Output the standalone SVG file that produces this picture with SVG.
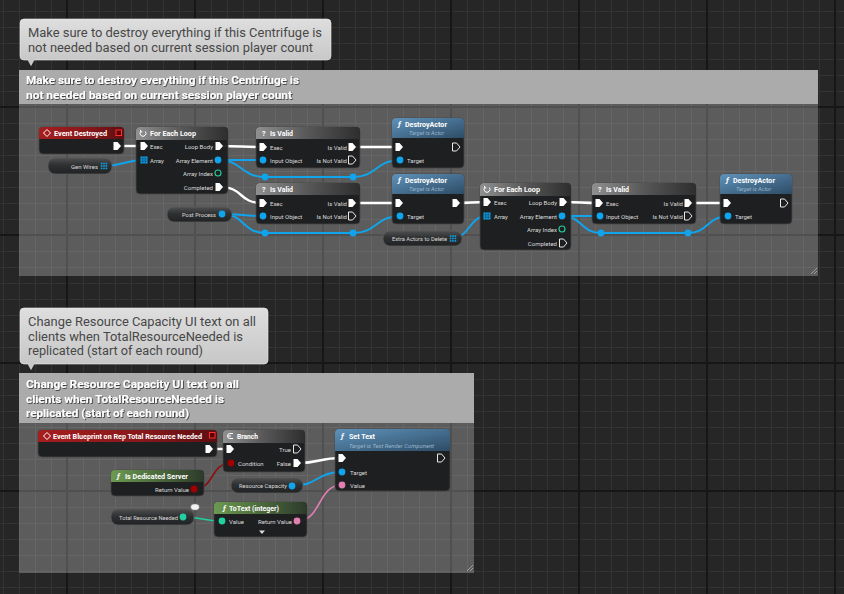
<svg xmlns="http://www.w3.org/2000/svg" xmlns:xlink="http://www.w3.org/1999/xlink" width="844" height="594" viewBox="0 0 844 594">
<defs>
<style>
text{font-family:Roboto,"Liberation Sans",sans-serif}
.nb{fill:#1c1d1f;fill-opacity:.96;stroke:#464646;stroke-width:.8}
.tt{font-size:7px;font-weight:bold;fill:#fff}
.fn{font-size:8px;font-weight:bold;font-style:italic;fill:#fff}
.lb{font-size:6px;fill:#dcdcdc}
.lr{font-size:6px;fill:#dcdcdc;text-anchor:end}
.sb{font-size:5.5px;font-style:italic;fill:#9bb6cc}
.pl{fill:url(#gPill);stroke:#5c5c5c;stroke-width:.8}
.pf{fill:#fff}
.po{fill:none;stroke:#fff;stroke-width:.9}
.pb{fill:#10a4ec}
.wx{fill:none;stroke:#fff;stroke-width:2.4}
.wo{fill:none;stroke:#10a4ec;stroke-width:2}
.wb{fill:none;stroke:#8c1010;stroke-width:1.6}
.wi{fill:none;stroke:#20d0a0;stroke-width:1.6}
.wt{fill:none;stroke:#de7fae;stroke-width:1.6}
.ch{font-size:11px;font-weight:bold;fill:#fff;filter:url(#ts)}
.bt{font-size:12px;fill:#474747}
</style>
<pattern id="gridMinor" patternUnits="userSpaceOnUse" x="3" y="11" width="16" height="16"><path d="M0.5,0V16M0,0.5H16" stroke="#333333" stroke-width="1"/></pattern>
<pattern id="gridMajor" patternUnits="userSpaceOnUse" x="66" y="106" width="128" height="128"><path d="M1,0V128M0,1H128" stroke="#161616" stroke-width="2"/></pattern>
<linearGradient id="gRed" x1="0" y1="0" x2="1" y2="0"><stop offset="0" stop-color="#a61e1e"/><stop offset=".6" stop-color="#86171a"/><stop offset="1" stop-color="#5c0f12"/></linearGradient>
<linearGradient id="gGray" x1="0" y1="0" x2="1" y2="0"><stop offset="0" stop-color="#909090"/><stop offset=".5" stop-color="#575757"/><stop offset="1" stop-color="#2e2e2e"/></linearGradient>
<linearGradient id="gBlue" x1="0" y1="0" x2="1" y2="1"><stop offset="0" stop-color="#5f92ba"/><stop offset="1" stop-color="#2d4c66"/></linearGradient>
<linearGradient id="gGreen" x1="0" y1="0" x2="1" y2="0"><stop offset="0" stop-color="#6c9a50"/><stop offset="1" stop-color="#2c3a2a"/></linearGradient>
<linearGradient id="gPill" x1="0" y1="0" x2="0" y2="1"><stop offset="0" stop-color="#4d4f51"/><stop offset=".45" stop-color="#2e3031"/><stop offset="1" stop-color="#212223"/></linearGradient>
<linearGradient id="gBubble" x1="0" y1="0" x2="0" y2="1"><stop offset="0" stop-color="#dedede"/><stop offset="1" stop-color="#c5c5c5"/></linearGradient>
<filter id="ts" x="-5%" y="-30%" width="110%" height="160%"><feDropShadow dx="0.8" dy="0.8" stdDeviation="0.3" flood-color="#000" flood-opacity="0.75"/></filter>
<path id="pe" d="M-3.5,-4H0.5L4,0L0.5,4H-3.5Z"/>
<g id="arr" fill="#10a4ec"><rect x="-3.2" y="-3.2" width="1.6" height="1.6"/><rect x="-0.8" y="-3.2" width="1.6" height="1.6"/><rect x="1.6" y="-3.2" width="1.6" height="1.6"/><rect x="-3.2" y="-0.8" width="1.6" height="1.6"/><rect x="-0.8" y="-0.8" width="1.6" height="1.6"/><rect x="1.6" y="-0.8" width="1.6" height="1.6"/><rect x="-3.2" y="1.6" width="1.6" height="1.6"/><rect x="-0.8" y="1.6" width="1.6" height="1.6"/><rect x="1.6" y="1.6" width="1.6" height="1.6"/></g>
<g id="arrIn"><rect x="-3.5" y="-3.5" width="7" height="7" fill="#10a4ec"/><path d="M-1.2,-3.5V3.5M1.2,-3.5V3.5M-3.5,-1.2H3.5M-3.5,1.2H3.5" stroke="#0a3c5a" stroke-width=".6"/></g>
<path id="icoEvent" d="M0,-3.5L3.5,0L0,3.5L-3.5,0Z" fill="none" stroke="#fff" stroke-width="1"/>
<g id="icoLoop" fill="none" stroke="#fff" stroke-width="1"><path d="M2.4,-2A3,3 0 1 1 -2.4,-2"/><path d="M-2.4,-3.6V-1.6H-0.6" /></g>
<g id="icoBranch" fill="none" stroke="#fff" stroke-width="1"><path d="M3,-2.5H0A2.5,2.5 0 0 0 0,2.5H3"/><path d="M-2,0H1"/></g>
</defs>

<rect width="844" height="594" fill="#262626"/>
<rect width="844" height="594" fill="url(#gridMinor)"/>
<rect width="844" height="594" fill="url(#gridMajor)"/>

<!-- Comment 1 -->
<g id="comment1">
<rect x="19" y="70" width="799" height="206" fill="#fff" fill-opacity=".25"/>
<rect x="19" y="70" width="799" height="34" fill="#ababab"/>
<text class="ch" x="26" y="84" textLength="273" lengthAdjust="spacingAndGlyphs">Make sure to destroy everything if this Centrifuge is</text>
<text class="ch" x="26" y="99" textLength="266" lengthAdjust="spacingAndGlyphs">not needed based on current session player count</text>
<path d="M817,268L811,274M817,271L814,274" stroke="#b0b0b0" stroke-width=".8"/>
</g>
<g id="bubble1">
<path d="M24,19H327Q331,19 331,23V56Q331,60 327,60H34L31,65.5L28,60H24Q20,60 20,56V23Q20,19 24,19Z" fill="url(#gBubble)" stroke="#ececec" stroke-width=".6"/>
<text class="bt" x="28" y="37" textLength="294" lengthAdjust="spacingAndGlyphs">Make sure to destroy everything if this Centrifuge is</text>
<text class="bt" x="28" y="52" textLength="285" lengthAdjust="spacingAndGlyphs">not needed based on current session player count</text>
</g>

<!-- Comment 2 -->
<g id="comment2">
<rect x="19" y="373" width="455" height="200" fill="#fff" fill-opacity=".25"/>
<rect x="19" y="373" width="455" height="50" fill="#ababab"/>
<text class="ch" x="26" y="388" textLength="213" lengthAdjust="spacingAndGlyphs">Change Resource Capacity UI text on all</text>
<text class="ch" x="26" y="403" textLength="198" lengthAdjust="spacingAndGlyphs">clients when TotalResourceNeeded is</text>
<text class="ch" x="26" y="417" textLength="163" lengthAdjust="spacingAndGlyphs">replicated (start of each round)</text>
<path d="M473,565L467,571M473,568L470,571" stroke="#b0b0b0" stroke-width=".8"/>
</g>
<g id="bubble2">
<path d="M24,308H264Q268,308 268,312V360Q268,364 264,364H34L31,369.5L28,364H24Q20,364 20,360V312Q20,308 24,308Z" fill="url(#gBubble)" stroke="#ececec" stroke-width=".6"/>
<text class="bt" x="28" y="326" textLength="228" lengthAdjust="spacingAndGlyphs">Change Resource Capacity UI text on all</text>
<text class="bt" x="28" y="341" textLength="215" lengthAdjust="spacingAndGlyphs">clients when TotalResourceNeeded is</text>
<text class="bt" x="28" y="355" textLength="175" lengthAdjust="spacingAndGlyphs">replicated (start of each round)</text>
</g>

<!-- Connectors -->
<g id="connectors">
<path class="wx" d="M117,146H144"/>
<path class="wo" d="M104,166C122,166 126,160 144,160"/>
<path class="wx" d="M219,146C240,146 242,147 263,147"/>
<path class="wo" d="M218,160H263"/>
<path class="wo" d="M218,160C242,160 241,177 265,177H353C377,177 376,160 400,160"/>
<path class="wx" d="M219,187C245,187 237,203 263,203"/>
<path class="wx" d="M352,147H399"/>
<path class="wo" d="M222,214C242,214 243,216 263,216"/>
<path class="wo" d="M222,214C244,214 243,233 265,233H353C377,233 376,216 400,216"/>
<path class="wx" d="M352,203H399"/>
<path class="wx" d="M456,203C471,203 472,202 487,202"/>
<path class="wo" d="M452,238C470,238 469,216 487,216"/>
<path class="wx" d="M563,202C581,202 581,203 599,203"/>
<path class="wo" d="M562,216H600"/>
<path class="wo" d="M562,216C582,216 581,233 601,233H688C708,233 708,216 728,216"/>
<path class="wx" d="M688,203H727"/>
<g fill="#10a4ec"><circle cx="265" cy="177" r="3.4"/><circle cx="353" cy="177" r="3.4"/><circle cx="265" cy="233" r="3.4"/><circle cx="353" cy="233" r="3.4"/><circle cx="601" cy="233" r="3.4"/><circle cx="688" cy="233" r="3.4"/></g>
<path class="wx" d="M209,449H230"/>
<path class="wb" d="M194,489C215,489 210,463 231,463"/>
<path class="wx" d="M297,463C322,463 317,458 342,458"/>
<path class="wo" d="M292,486C318,486 316,472 342,472"/>
<path class="wi" d="M183,517C203,517 202,521 222,521"/>
<path class="wt" d="M297,521C322,521 317,485 342,485"/>
</g>

<!-- Section 1 nodes -->
<g id="n-event-destroyed">
<rect class="nb" x="39" y="127" width="85" height="27" rx="4"/>
<path fill="url(#gRed)" d="M39,139V131Q39,127 43,127H120Q124,127 124,131V139Z"/>
<use href="#icoEvent" x="47" y="133"/>
<text class="tt" x="54" y="135.5" textLength="53" lengthAdjust="spacingAndGlyphs">Event Destroyed</text>
<rect x="116" y="130" width="5.5" height="5.5" fill="#5a0000" stroke="#ff3030" stroke-width="1"/>
<use href="#pe" x="117" y="146" class="pf"/>
</g>

<g id="v-gen-wires">
<rect class="pl" x="48" y="158" width="64" height="16" rx="7"/>
<text class="lr" x="98" y="168.5">Gen Wires</text>
<use href="#arr" x="104" y="166"/>
</g>

<g id="n-foreach-1">
<rect class="nb" x="136" y="127" width="92" height="67" rx="4"/>
<path fill="url(#gGray)" d="M136,140V131Q136,127 140,127H224Q228,127 228,131V140Z"/>
<use href="#icoLoop" x="143" y="133.5"/>
<text class="tt" x="150" y="135.5" textLength="46" lengthAdjust="spacingAndGlyphs">For Each Loop</text>
<text class="lb" x="150" y="148.5">Exec</text>
<text class="lb" x="150" y="162.5">Array</text>
<text class="lr" x="213" y="148.5">Loop Body</text>
<text class="lr" x="213" y="162.5">Array Element</text>
<text class="lr" x="213" y="175.5">Array Index</text>
<text class="lr" x="213" y="189.5">Completed</text>
<use href="#pe" x="144" y="146" class="pf"/>
<use href="#arrIn" x="144" y="160"/>
<use href="#pe" x="219" y="146" class="pf"/>
<circle class="pb" cx="218" cy="160" r="3.4"/>
<circle cx="218" cy="173" r="3" fill="none" stroke="#22d09c" stroke-width="1.1"/>
<use href="#pe" x="219" y="187" class="pf"/>
</g>

<g id="n-isvalid-1">
<rect class="nb" x="256" y="127" width="104" height="41" rx="4"/>
<path fill="url(#gGray)" d="M256,139V131Q256,127 260,127H356Q360,127 360,131V139Z"/>
<text class="tt" x="262" y="135.5">?</text>
<text class="tt" x="270" y="135.5" textLength="23" lengthAdjust="spacingAndGlyphs">Is Valid</text>
<text class="lb" x="270" y="149.5">Exec</text>
<text class="lb" x="270" y="162.5">Input Object</text>
<text class="lr" x="347" y="149.5">Is Valid</text>
<text class="lr" x="347" y="162.5">Is Not Valid</text>
<use href="#pe" x="263" y="147" class="pf"/>
<circle class="pb" cx="263" cy="160" r="3.4"/>
<use href="#pe" x="352" y="147" class="pf"/>
<use href="#pe" x="352" y="160" class="po"/>
</g>

<g id="n-destroy-1">
<rect class="nb" x="392" y="118" width="72" height="50" rx="4"/>
<path fill="url(#gBlue)" d="M392,138V122Q392,118 396,118H460Q464,118 464,122V138Z"/>
<text class="fn" x="398" y="127">ƒ</text>
<text class="tt" x="405" y="127" textLength="42" lengthAdjust="spacingAndGlyphs">DestroyActor</text>
<text class="sb" x="409" y="135" textLength="35" lengthAdjust="spacingAndGlyphs">Target is Actor</text>
<use href="#pe" x="399" y="147" class="pf"/>
<use href="#pe" x="456" y="147" class="po"/>
<circle class="pb" cx="400" cy="160" r="3.4"/>
<text class="lb" x="407" y="162.5">Target</text>
</g>

<g id="v-post-process">
<rect class="pl" x="167" y="207" width="65" height="15" rx="7"/>
<text class="lb" x="182" y="216.5" textLength="34" lengthAdjust="spacingAndGlyphs">Post Process</text>
<circle class="pb" cx="222" cy="214" r="3.4"/>
</g>

<g id="n-isvalid-2">
<rect class="nb" x="256" y="183" width="104" height="41" rx="4"/>
<path fill="url(#gGray)" d="M256,195V187Q256,183 260,183H356Q360,183 360,187V195Z"/>
<text class="tt" x="262" y="191.5">?</text>
<text class="tt" x="270" y="191.5" textLength="23" lengthAdjust="spacingAndGlyphs">Is Valid</text>
<text class="lb" x="270" y="205.5">Exec</text>
<text class="lb" x="270" y="218.5">Input Object</text>
<text class="lr" x="347" y="205.5">Is Valid</text>
<text class="lr" x="347" y="218.5">Is Not Valid</text>
<use href="#pe" x="263" y="203" class="pf"/>
<circle class="pb" cx="263" cy="216" r="3.4"/>
<use href="#pe" x="352" y="203" class="pf"/>
<use href="#pe" x="352" y="216" class="po"/>
</g>

<g id="n-destroy-2">
<rect class="nb" x="392" y="174" width="72" height="50" rx="4"/>
<path fill="url(#gBlue)" d="M392,194V178Q392,174 396,174H460Q464,174 464,178V194Z"/>
<text class="fn" x="398" y="183">ƒ</text>
<text class="tt" x="405" y="183" textLength="42" lengthAdjust="spacingAndGlyphs">DestroyActor</text>
<text class="sb" x="409" y="191" textLength="35" lengthAdjust="spacingAndGlyphs">Target is Actor</text>
<use href="#pe" x="399" y="203" class="pf"/>
<use href="#pe" x="456" y="203" class="pf"/>
<circle class="pb" cx="400" cy="216" r="3.4"/>
<text class="lb" x="407" y="218.5">Target</text>
</g>

<g id="v-extra-actors">
<rect class="pl" x="383" y="231" width="79" height="15" rx="7"/>
<text class="lb" x="392" y="240.5" textLength="55" lengthAdjust="spacingAndGlyphs">Extra Actors to Delete</text>
<use href="#arr" x="453" y="238.5"/>
</g>

<g id="n-foreach-2">
<rect class="nb" x="480" y="183" width="91" height="67" rx="4"/>
<path fill="url(#gGray)" d="M480,196V187Q480,183 484,183H567Q571,183 571,187V196Z"/>
<use href="#icoLoop" x="487" y="189.5"/>
<text class="tt" x="494" y="191.5" textLength="46" lengthAdjust="spacingAndGlyphs">For Each Loop</text>
<text class="lb" x="494" y="204.5">Exec</text>
<text class="lb" x="494" y="218.5">Array</text>
<text class="lr" x="557" y="204.5">Loop Body</text>
<text class="lr" x="557" y="218.5">Array Element</text>
<text class="lr" x="557" y="231.5">Array Index</text>
<text class="lr" x="557" y="245.5">Completed</text>
<use href="#pe" x="487" y="202" class="pf"/>
<use href="#arrIn" x="487" y="216"/>
<use href="#pe" x="563" y="202" class="pf"/>
<circle class="pb" cx="562" cy="216" r="3.4"/>
<circle cx="562" cy="229" r="3" fill="none" stroke="#22d09c" stroke-width="1.1"/>
<use href="#pe" x="563" y="243" class="po"/>
</g>

<g id="n-isvalid-3">
<rect class="nb" x="592" y="183" width="104" height="41" rx="4"/>
<path fill="url(#gGray)" d="M592,195V187Q592,183 596,183H692Q696,183 696,187V195Z"/>
<text class="tt" x="598" y="191.5">?</text>
<text class="tt" x="606" y="191.5" textLength="23" lengthAdjust="spacingAndGlyphs">Is Valid</text>
<text class="lb" x="606" y="205.5">Exec</text>
<text class="lb" x="606" y="218.5">Input Object</text>
<text class="lr" x="683" y="205.5">Is Valid</text>
<text class="lr" x="683" y="218.5">Is Not Valid</text>
<use href="#pe" x="599" y="203" class="pf"/>
<circle class="pb" cx="600" cy="216" r="3.4"/>
<use href="#pe" x="688" y="203" class="pf"/>
<use href="#pe" x="688" y="216" class="po"/>
</g>

<g id="n-destroy-3">
<rect class="nb" x="720" y="174" width="72" height="50" rx="4"/>
<path fill="url(#gBlue)" d="M720,194V178Q720,174 724,174H788Q792,174 792,178V194Z"/>
<text class="fn" x="726" y="183">ƒ</text>
<text class="tt" x="733" y="183" textLength="42" lengthAdjust="spacingAndGlyphs">DestroyActor</text>
<text class="sb" x="736" y="191" textLength="35" lengthAdjust="spacingAndGlyphs">Target is Actor</text>
<use href="#pe" x="727" y="203" class="pf"/>
<use href="#pe" x="784" y="203" class="po"/>
<circle class="pb" cx="728" cy="216" r="3.4"/>
<text class="lb" x="735" y="218.5">Target</text>
</g>

<!-- Section 2 nodes -->
<g id="n-event-onrep">
<rect class="nb" x="38" y="430" width="179" height="27" rx="4"/>
<path fill="url(#gRed)" d="M38,442V434Q38,430 42,430H213Q217,430 217,434V442Z"/>
<use href="#icoEvent" x="47" y="436"/>
<text class="tt" x="53" y="438.5" textLength="149" lengthAdjust="spacingAndGlyphs">Event Blueprint on Rep Total Resource Needed</text>
<rect x="209.5" y="432.5" width="5.5" height="5.5" fill="#5a0000" stroke="#ff3030" stroke-width="1"/>
<use href="#pe" x="209" y="449" class="pf"/>
</g>

<g id="n-branch">
<rect class="nb" x="223" y="430" width="82" height="42" rx="4"/>
<path fill="url(#gGray)" d="M223,443V434Q223,430 227,430H301Q305,430 305,434V443Z"/>
<use href="#icoBranch" x="230" y="436"/>
<text class="tt" x="237" y="438.5" textLength="21" lengthAdjust="spacingAndGlyphs">Branch</text>
<use href="#pe" x="230" y="449" class="pf"/>
<circle cx="231" cy="463" r="3.4" fill="#a00000"/>
<text class="lb" x="238" y="465.5">Condition</text>
<text class="lr" x="291" y="451.5">True</text>
<text class="lr" x="291" y="465.5">False</text>
<use href="#pe" x="297" y="449" class="po"/>
<use href="#pe" x="297" y="463" class="pf"/>
</g>

<g id="n-is-dedicated-server">
<rect class="nb" x="111" y="470" width="93" height="26" rx="4"/>
<path fill="url(#gGreen)" d="M111,482V474Q111,470 115,470H200Q204,470 204,474V482Z"/>
<text class="fn" x="117" y="479">ƒ</text>
<text class="tt" x="125" y="479" textLength="63" lengthAdjust="spacingAndGlyphs">Is Dedicated Server</text>
<text class="lr" x="189" y="491.5">Return Value</text>
<circle cx="194" cy="489" r="3.4" fill="#a00000"/>
</g>

<g id="v-resource-capacity">
<rect class="pl" x="231" y="478" width="72" height="15" rx="7"/>
<text class="lb" x="239" y="487.5" textLength="48" lengthAdjust="spacingAndGlyphs">Resource Capacity</text>
<circle class="pb" cx="292" cy="486" r="3.4"/>
</g>

<g id="n-set-text">
<rect class="nb" x="335" y="429" width="115" height="62" rx="4"/>
<path fill="url(#gBlue)" d="M335,451V433Q335,429 339,429H446Q450,429 450,433V451Z"/>
<text class="fn" x="341" y="439">ƒ</text>
<text class="tt" x="349" y="439" textLength="26" lengthAdjust="spacingAndGlyphs">Set Text</text>
<text class="sb" x="349" y="447.5" textLength="85" lengthAdjust="spacingAndGlyphs">Target is Text Render Component</text>
<use href="#pe" x="342" y="458" class="pf"/>
<use href="#pe" x="441" y="458" class="po"/>
<circle class="pb" cx="342" cy="472" r="3.4"/>
<text class="lb" x="350" y="474.5">Target</text>
<circle cx="342" cy="485" r="3.4" fill="#e07fb0"/>
<text class="lb" x="350" y="487.5">Value</text>
</g>

<g id="v-total-resource-needed">
<rect class="pl" x="111" y="509" width="83" height="16" rx="7"/>
<text class="lb" x="119" y="519.5" textLength="59" lengthAdjust="spacingAndGlyphs">Total Resource Needed</text>
<circle cx="183" cy="517" r="3.4" fill="#20d0a0"/>
<ellipse cx="195" cy="507" rx="4.2" ry="3" fill="#f2f2f2" stroke="#9a9a9a" stroke-width=".5"/>
</g>

<g id="n-totext">
<rect class="nb" x="214" y="502" width="93" height="35" rx="4"/>
<path fill="url(#gGreen)" d="M214,514V506Q214,502 218,502H303Q307,502 307,506V514Z"/>
<text class="fn" x="223" y="511">ƒ</text>
<text class="tt" x="229" y="511" textLength="50" lengthAdjust="spacingAndGlyphs">ToText (integer)</text>
<circle cx="222" cy="521" r="3.4" fill="#20d0a0"/>
<text class="lb" x="229" y="523.5">Value</text>
<text class="lr" x="292" y="523.5">Return Value</text>
<circle cx="297" cy="521" r="3.4" fill="#e07fb0"/>
<path d="M259,530.5H265L262,534Z" fill="#dcdcdc"/>
</g>
</svg>
